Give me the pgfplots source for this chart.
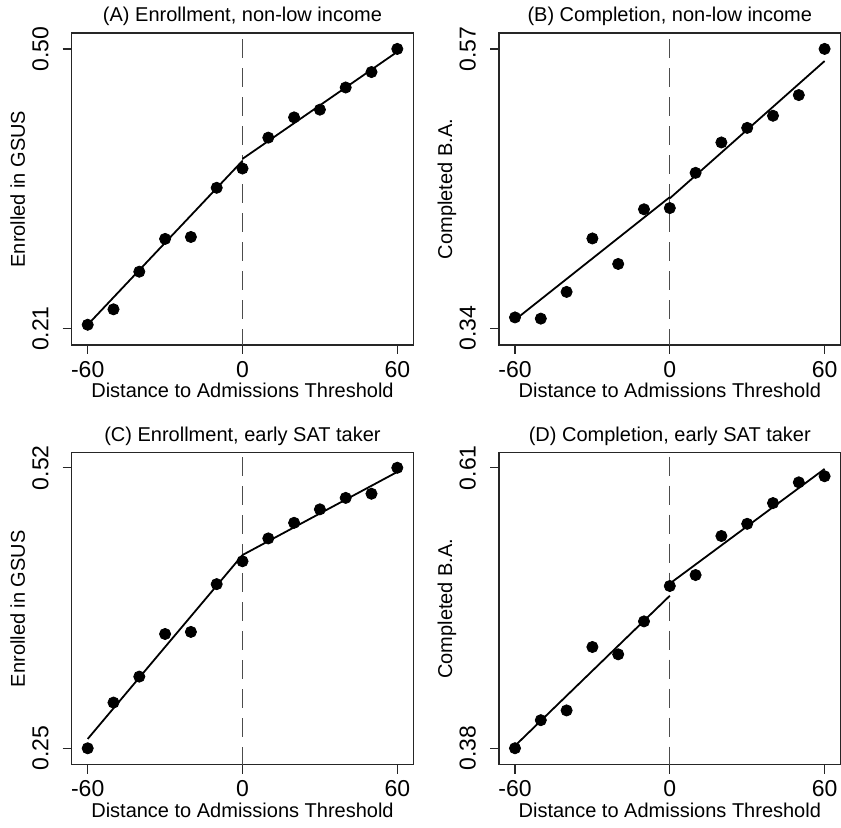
\documentclass[border=0pt]{standalone}
\usepackage{fontspec}
\setmainfont{Liberation Sans}
\usepackage{pgfplots}
\pgfplotsset{compat=1.18}
\pgfplotsset{
  panel/.style={
    scale only axis, width=170.8pt, height=156pt,
    xmin=-66.2, xmax=66.2,
    xtick={-60,0,60}, xticklabels={-60,0,60},
    tick align=outside, major tick length=4.5pt,
    xtick pos=left, ytick pos=left,
    axis line style={line width=0.75pt, black!85},
    every tick/.style={line width=0.6pt, black!85},
    tick label style={font=\fontsize{11.5}{13}\selectfont},
    yticklabel style={xshift=-7.2pt, rotate=90, anchor=base},
    every axis title shift=0pt,
    title style={at={(0.5,1)}, anchor=base, yshift=5.5pt, font=\fontsize{10}{12}\selectfont},
    xlabel style={at={(axis description cs:0.5,0)}, anchor=base, yshift=-26.5pt, font=\fontsize{10}{12}\selectfont},
    ylabel style={at={([xshift=-23.4pt]axis description cs:0,0.5)}, anchor=base, font=\fontsize{10}{12}\selectfont},
    xlabel={Distance to Admissions Threshold},
    clip=false,
  },
  pts/.style={only marks, mark=*, mark size=2.8pt, black},
  fit/.style={no marks, line width=0.9pt, black},
  cut/.style={no marks, line width=0.5pt, gray!60!black, dash pattern=on 9.5pt off 5pt},
}
\begin{document}
\begin{tikzpicture}
\useasboundingbox (0,0) rectangle (420.5pt,-414pt);
% (A)
\begin{axis}[panel, at={(35.85pt,-172.5pt)}, anchor=south west,
  ymin=0.193, ymax=0.5165, ytick={0.21,0.50}, yticklabels={0.21,0.50},
  title={(A) Enrollment, non-low income}, ylabel={Enrolled in GSUS}]
\addplot[cut] coordinates {(0,0.510) (0,0.193)};
\addplot[fit] coordinates {(-60,0.214) (0,0.384)};
\addplot[fit] coordinates {(0,0.386) (60,0.497)};
\addplot[pts] coordinates {(-60,0.214) (-50,0.230) (-40,0.269) (-30,0.303) (-20,0.305) (-10,0.356) (0,0.376) (10,0.408) (20,0.429) (30,0.437) (40,0.460) (50,0.476) (60,0.500)};
\end{axis}
% (B)
\begin{axis}[panel, at={(249.5pt,-172.5pt)}, anchor=south west,
  ymin=0.3263, ymax=0.5831, ytick={0.34,0.57}, yticklabels={0.34,0.57},
  title={(B) Completion, non-low income}, ylabel={Completed B.A.}]
\addplot[cut] coordinates {(0,0.578) (0,0.3263)};
\addplot[fit] coordinates {(-60,0.347) (0,0.448)};
\addplot[fit] coordinates {(0,0.447) (60,0.560)};
\addplot[pts] coordinates {(-60,0.349) (-50,0.348) (-40,0.370) (-30,0.414) (-20,0.393) (-10,0.438) (0,0.439) (10,0.468) (20,0.493) (30,0.505) (40,0.515) (50,0.532) (60,0.570)};
\end{axis}
% (C)
\begin{axis}[panel, at={(35.85pt,-382.35pt)}, anchor=south west,
  ymin=0.2342, ymax=0.5345, ytick={0.25,0.52}, yticklabels={0.25,0.52},
  title={(C) Enrollment, early SAT taker}, ylabel={Enrolled in GSUS}]
\addplot[cut] coordinates {(0,0.530) (0,0.2342)};
\addplot[fit] coordinates {(-60,0.259) (0,0.436)};
\addplot[fit] coordinates {(0,0.436) (60,0.516)};
\addplot[pts] coordinates {(-60,0.250) (-50,0.294) (-40,0.319) (-30,0.360) (-20,0.362) (-10,0.408) (0,0.430) (10,0.452) (20,0.467) (30,0.480) (40,0.491) (50,0.495) (60,0.520)};
\end{axis}
% (D)
\begin{axis}[panel, at={(249.5pt,-382.35pt)}, anchor=south west,
  ymin=0.3665, ymax=0.6223, ytick={0.38,0.61}, yticklabels={0.38,0.61},
  title={(D) Completion, early SAT taker}, ylabel={Completed B.A.}]
\addplot[cut] coordinates {(0,0.619) (0,0.3665)};
\addplot[fit] coordinates {(-60,0.382) (0,0.505)};
\addplot[fit] coordinates {(0,0.515) (60,0.609)};
\addplot[pts] coordinates {(-60,0.380) (-50,0.403) (-40,0.411) (-30,0.463) (-20,0.457) (-10,0.484) (0,0.513) (10,0.522) (20,0.554) (30,0.564) (40,0.581) (50,0.598) (60,0.603)};
\end{axis}
\end{tikzpicture}
\end{document}
